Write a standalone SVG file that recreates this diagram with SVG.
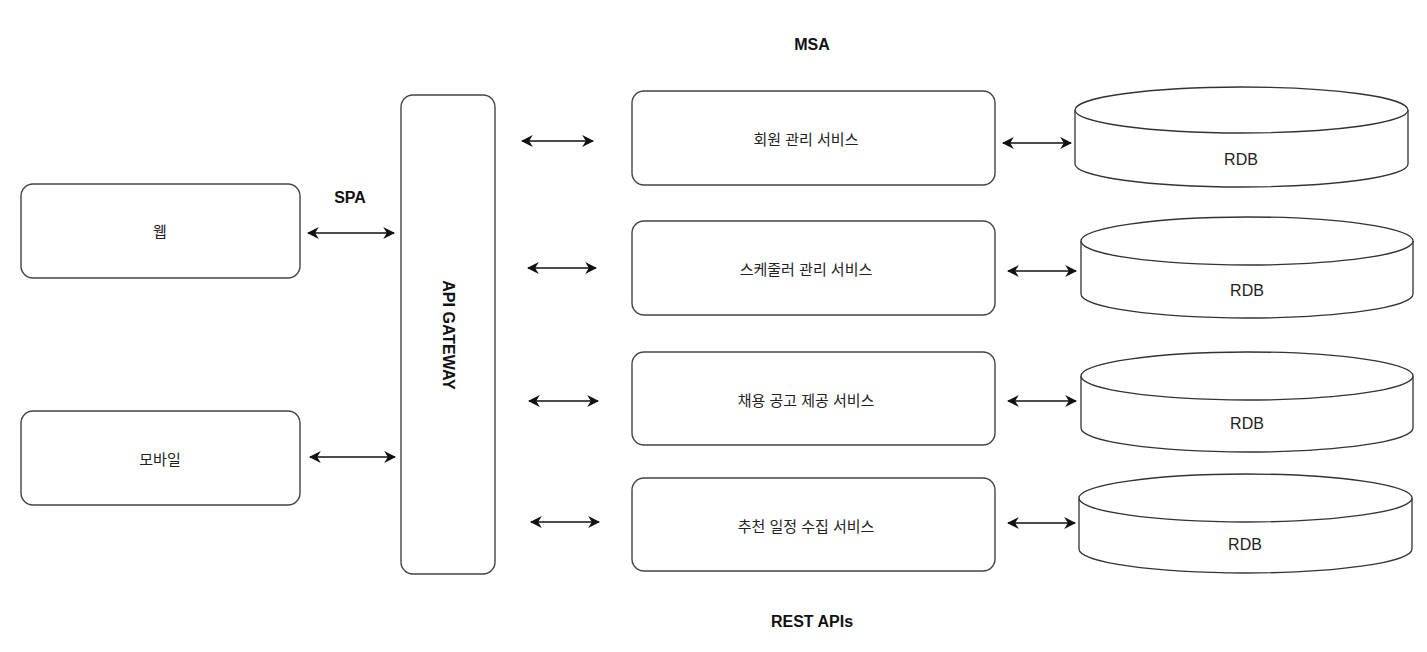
<svg xmlns="http://www.w3.org/2000/svg" width="1427" height="652" viewBox="0 0 1427 652">
<style>
.box{fill:#fff;stroke:#444;stroke-width:1.4}
.cyl{fill:#fff;stroke:#333;stroke-width:1.3}
.t{font-family:"Liberation Sans","Noto Sans CJK KR",Arial,sans-serif;font-size:15px;fill:#222;text-anchor:middle;dominant-baseline:central}
.r{font-size:16px}
.b{font-family:"Liberation Sans",Arial,sans-serif;font-size:16px;font-weight:bold;fill:#111;text-anchor:middle;dominant-baseline:central}
.c{fill:none;stroke:#111;stroke-width:1.4;marker-start:url(#ah);marker-end:url(#ah)}
</style>
<defs>
<marker id="ah" viewBox="0 0 10 10" refX="9" refY="5" markerWidth="12" markerHeight="12" markerUnits="userSpaceOnUse" orient="auto-start-reverse">
<path d="M0,0 L10,5 L0,10 L3,5 z" fill="#111"/>
</marker>
</defs>
<rect width="1427" height="652" fill="#fff"/>
<text class="b" x="812" y="44">MSA</text>
<text class="b" x="350" y="197">SPA</text>
<text class="b" x="812" y="621">REST APIs</text>

<g id="web"><rect class="box" x="21" y="184" width="279" height="94" rx="12"/><text class="t" x="160" y="231">웹</text></g>
<g id="mobile"><rect class="box" x="21" y="411" width="279" height="94" rx="12"/><text class="t" x="160" y="459">모바일</text></g>
<g id="gateway"><rect class="box" x="401" y="95" width="94" height="479" rx="12"/><text class="b" x="448" y="335" transform="rotate(90 448 335)">API GATEWAY</text></g>

<g id="svc1"><rect class="box" x="632" y="91" width="363" height="94" rx="12"/><text class="t" x="806" y="139">회원 관리 서비스</text></g>
<g id="svc2"><rect class="box" x="632" y="221" width="363" height="94" rx="12"/><text class="t" x="806" y="269">스케줄러 관리 서비스</text></g>
<g id="svc3"><rect class="box" x="632" y="352" width="363" height="93" rx="12"/><text class="t" x="806" y="400">채용 공고 제공 서비스</text></g>
<g id="svc4"><rect class="box" x="632" y="478" width="363" height="93" rx="12"/><text class="t" x="806" y="526">추천 일정 수집 서비스</text></g>

<g id="db1"><path class="cyl" d="M1075,110 A166.5,23 0 0 1 1408,110 L1408,164 A166.5,23 0 0 1 1075,164 Z"/><path class="cyl" d="M1075,110 A166.5,23 0 0 0 1408,110"/><text class="t r" x="1241" y="159">RDB</text></g>
<g id="db2"><path class="cyl" d="M1081,241 A166,24 0 0 1 1413,241 L1413,294 A166,24 0 0 1 1081,294 Z"/><path class="cyl" d="M1081,241 A166,24 0 0 0 1413,241"/><text class="t r" x="1247" y="290">RDB</text></g>
<g id="db3"><path class="cyl" d="M1081,376 A166,24 0 0 1 1413,376 L1413,428 A166,24 0 0 1 1081,428 Z"/><path class="cyl" d="M1081,376 A166,24 0 0 0 1413,376"/><text class="t r" x="1247" y="423">RDB</text></g>
<g id="db4"><path class="cyl" d="M1079,498 A166.5,24 0 0 1 1412,498 L1412,549 A166.5,24 0 0 1 1079,549 Z"/><path class="cyl" d="M1079,498 A166.5,24 0 0 0 1412,498"/><text class="t r" x="1245" y="544">RDB</text></g>

<g id="connectors">
<line class="c" x1="308" y1="233" x2="394" y2="233"/>
<line class="c" x1="310" y1="457" x2="395" y2="457"/>
<line class="c" x1="522" y1="141" x2="593" y2="141"/>
<line class="c" x1="528" y1="268" x2="596" y2="268"/>
<line class="c" x1="529" y1="401" x2="598" y2="401"/>
<line class="c" x1="531" y1="522" x2="599" y2="522"/>
<line class="c" x1="1003" y1="143" x2="1071" y2="143"/>
<line class="c" x1="1008" y1="271" x2="1076" y2="271"/>
<line class="c" x1="1008" y1="401" x2="1076" y2="401"/>
<line class="c" x1="1008" y1="523" x2="1075" y2="523"/>
</g>
</svg>
